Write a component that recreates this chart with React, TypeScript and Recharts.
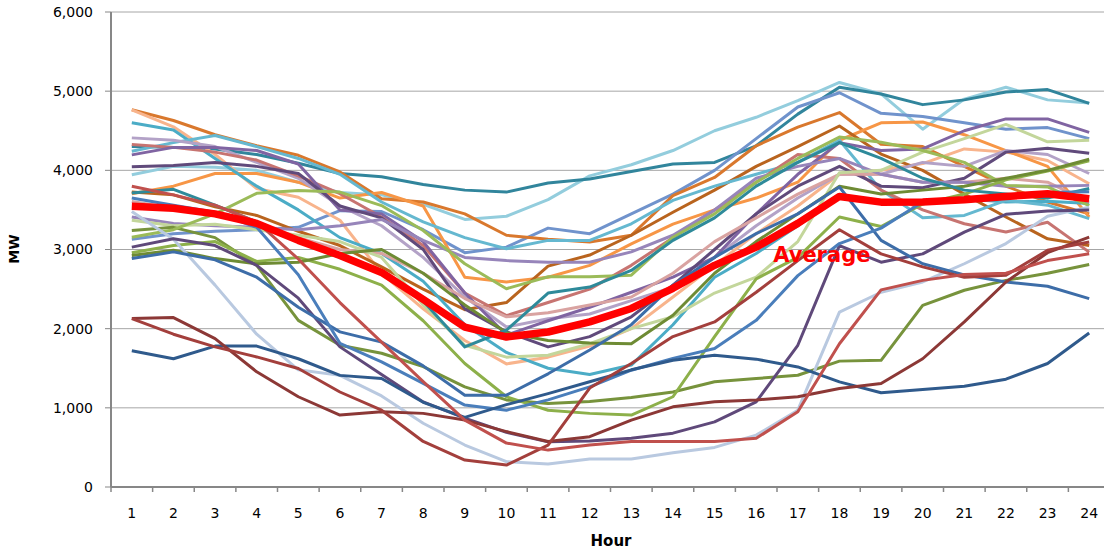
import React from 'react';
import { LineChart, Line, XAxis, YAxis, CartesianGrid } from 'recharts';

const hours = [1, 2, 3, 4, 5, 6, 7, 8, 9, 10, 11, 12, 13, 14, 15, 16, 17, 18, 19, 20, 21, 22, 23, 24];
const yTicks = [0, 1000, 2000, 3000, 4000, 5000, 6000];

const average = [3545, 3520, 3450, 3330, 3115, 2925, 2710, 2370, 2020, 1895, 1958, 2085, 2255, 2510, 2800, 3030, 3330, 3670, 3598, 3600, 3628, 3670, 3703, 3640];

const lightBlue = [3945, 4050, 4040, 4000, 3850, 3720, 3690, 3570, 3380, 3420, 3630, 3930, 4070, 4250, 4500, 4670, 4880, 5110, 4965, 4520, 4900, 5050, 4890, 4850];
const teal = [4300, 4290, 4270, 4200, 4090, 3960, 3920, 3820, 3750, 3725, 3840, 3890, 3985, 4080, 4100, 4310, 4710, 5050, 4965, 4830, 4890, 4990, 5020, 4846];
const periwinkle = [3130, 3200, 3230, 3250, 3280, 3490, 3480, 3250, 2960, 3030, 3270, 3200, 3450, 3700, 4000, 4400, 4800, 4980, 4720, 4680, 4600, 4520, 4540, 4400];
const darkOrange = [4765, 4630, 4450, 4310, 4190, 3980, 3640, 3600, 3450, 3180, 3130, 3095, 3180, 3680, 3910, 4310, 4545, 4730, 4330, 4300, 4050, 3800, 3600, 3450];
const peach = [4765, 4550, 4200, 3770, 3660, 3370, 2700, 2250, 1850, 1555, 1640, 1780, 2000, 2400, 2800, 3200, 3550, 3950, 4000, 4085, 4270, 4230, 4125, 3830];
const orange = [3705, 3800, 3960, 3960, 3850, 3650, 3720, 3550, 2650, 2590, 2650, 2800, 3070, 3320, 3500, 3650, 3850, 4380, 4600, 4610, 4450, 4250, 4050, 3410];
const brown = [3725, 3690, 3540, 3430, 3230, 3050, 2780, 2500, 2240, 2330, 2790, 2930, 3180, 3470, 3750, 4050, 4300, 4560, 4205, 4000, 3700, 3410, 3135, 3050];
const aqua = [4600, 4510, 4150, 3800, 3500, 3150, 2950, 2600, 2050, 1700, 1500, 1420, 1540, 2050, 2650, 2950, 3300, 3680, 3620, 3620, 3640, 3600, 3610, 3580];
const aqua2 = [4240, 4350, 4440, 4300, 4150, 3950, 3600, 3350, 3150, 3010, 3115, 3115, 3325, 3620, 3800, 3950, 4100, 4380, 3750, 3400, 3430, 3620, 3560, 3390];
const lightPurple = [4410, 4380, 4300, 4100, 3900, 3550, 3300, 2900, 2400, 2020, 2125, 2185, 2355, 2525, 2900, 3300, 3650, 3950, 3950, 4100, 4050, 4250, 4200, 3960];
const rose = [4325, 4290, 4230, 4130, 3930, 3705, 3410, 3050, 2450, 2165, 2330, 2500, 2800, 3150, 3500, 3850, 4200, 4150, 3750, 3500, 3325, 3220, 3345, 2967];
const purple = [4195, 4290, 4290, 4250, 4080, 3500, 3450, 3100, 2450, 1920, 2100, 2270, 2460, 2650, 2900, 3450, 3950, 4350, 4250, 4270, 4500, 4650, 4650, 4480];
const darkPurple2 = [4045, 4060, 4100, 4050, 3960, 3550, 3400, 3000, 2250, 1960, 1770, 1900, 2150, 2550, 3000, 3450, 3800, 4050, 3800, 3780, 3900, 4230, 4280, 4215];
const pink = [3605, 3520, 3450, 3300, 3150, 3000, 2950, 2700, 2380, 2150, 2200, 2300, 2400, 2700, 3100, 3400, 3700, 3950, 3950, 3850, 3850, 3900, 3850, 3600];
const mauve = [3410, 3330, 3300, 3280, 3250, 3300, 3380, 3115, 2900, 2860, 2840, 2840, 2970, 3180, 3500, 3900, 4050, 4150, 3950, 3850, 3850, 3800, 3800, 3810];
const lightGreen = [3370, 3300, 3320, 3250, 3180, 3100, 2900, 2300, 1790, 1640, 1665, 1810, 2000, 2150, 2450, 2650, 3100, 3970, 4000, 4230, 4400, 4580, 4360, 4380];
const darkGreen = [3240, 3280, 3150, 2800, 2105, 1790, 1690, 1520, 1265, 1100, 1055, 1080, 1130, 1200, 1330, 1370, 1412, 1590, 1600, 2295, 2485, 2610, 2700, 2810];
const green = [3155, 3250, 3450, 3710, 3745, 3725, 3555, 3240, 2820, 2505, 2655, 2655, 2675, 3155, 3450, 3850, 4150, 4420, 4355, 4250, 4100, 3810, 3790, 3555];
const greenDip = [2960, 3050, 3100, 2850, 2900, 2750, 2550, 2100, 1560, 1140, 970, 930, 908, 1140, 1900, 2630, 2900, 3410, 3290, 3575, 3700, 3880, 3990, 4120];
const olive = [2925, 2990, 2885, 2820, 2840, 2950, 3000, 2700, 2300, 1950, 1850, 1820, 1810, 2170, 2700, 3100, 3450, 3800, 3700, 3750, 3800, 3900, 4000, 4140];
const teal2 = [3715, 3760, 3560, 3350, 3100, 2900, 2700, 2350, 1770, 1980, 2450, 2525, 2735, 3115, 3400, 3800, 4100, 4350, 4150, 3900, 3750, 3700, 3650, 3770];
const lightGray = [3480, 3130, 2550, 1930, 1480, 1410, 1150, 805, 530, 320, 290, 355, 355, 433, 500, 655, 970, 2210, 2460, 2590, 2820, 3075, 3420, 3535];
const darkPurple = [3030, 3135, 3050, 2800, 2385, 1770, 1420, 1075, 870, 690, 570, 580, 615, 680, 823, 1075, 1790, 3050, 2840, 2945, 3220, 3445, 3485, 3500];
const blueMid = [2885, 2970, 2870, 2650, 2270, 1960, 1830, 1530, 1160, 1160, 1430, 1730, 2050, 2550, 2900, 3200, 3450, 3790, 3115, 2820, 2680, 2590, 2535, 2380];
const blue = [3650, 3560, 3470, 3280, 2680, 1815, 1580, 1310, 1035, 970, 1100, 1265, 1475, 1625, 1750, 2105, 2670, 3075, 3270, 3600, 3650, 3680, 3720, 3730];
const darkBlue = [1720, 1620, 1780, 1780, 1620, 1410, 1370, 1070, 880, 1040, 1180, 1330, 1480, 1600, 1665, 1615, 1517, 1328, 1190, 1232, 1273, 1362, 1560, 1946];
const darkRed = [2127, 2140, 1875, 1455, 1140, 908, 950, 930, 845, 700, 575, 635, 845, 1013, 1076, 1100, 1140, 1245, 1307, 1620, 2085, 2590, 2960, 3157];
const redJump = [2127, 1930, 1770, 1643, 1497, 1200, 970, 575, 340, 277, 530, 1250, 1560, 1900, 2085, 2460, 2860, 3250, 2945, 2780, 2650, 2675, 2990, 3095];
const red = [3800, 3690, 3560, 3350, 2880, 2330, 1830, 1330, 845, 555, 466, 530, 575, 575, 575, 615, 950, 1810, 2490, 2610, 2685, 2700, 2860, 2945];

const series = [
  { key: 'lightBlue', color: '#93CDDD', values: lightBlue },
  { key: 'teal', color: '#31859C', values: teal },
  { key: 'periwinkle', color: '#7093CC', values: periwinkle },
  { key: 'darkOrange', color: '#D9782D', values: darkOrange },
  { key: 'peach', color: '#F8B48C', values: peach },
  { key: 'orange', color: '#F79646', values: orange },
  { key: 'brown', color: '#B9641E', values: brown },
  { key: 'aqua', color: '#4BACC6', values: aqua },
  { key: 'aqua2', color: '#65B8D0', values: aqua2 },
  { key: 'lightPurple', color: '#B3A2C7', values: lightPurple },
  { key: 'rose', color: '#C77471', values: rose },
  { key: 'purple', color: '#8064A2', values: purple },
  { key: 'darkPurple2', color: '#604A7B', values: darkPurple2 },
  { key: 'pink', color: '#D9A3A1', values: pink },
  { key: 'mauve', color: '#9785BA', values: mauve },
  { key: 'lightGreen', color: '#C3D69B', values: lightGreen },
  { key: 'darkGreen', color: '#77933C', values: darkGreen },
  { key: 'green', color: '#9BBB59', values: green },
  { key: 'greenDip', color: '#8DB04A', values: greenDip },
  { key: 'olive', color: '#6E8B34', values: olive },
  { key: 'teal2', color: '#2E8A9A', values: teal2 },
  { key: 'lightGray', color: '#B9C9E0', values: lightGray },
  { key: 'darkPurple', color: '#5F497A', values: darkPurple },
  { key: 'blueMid', color: '#3D6DA8', values: blueMid },
  { key: 'blue', color: '#4A7EBB', values: blue },
  { key: 'darkBlue', color: '#2F5A8C', values: darkBlue },
  { key: 'darkRed', color: '#8C3836', values: darkRed },
  { key: 'redJump', color: '#A33F3C', values: redJump },
  { key: 'red', color: '#C0504D', values: red },
];

const data = hours.map((h, i) => {
  const row: Record<string, number> = { hour: h, average: average[i] };
  series.forEach((s) => {
    row[s.key] = s.values[i];
  });
  return row;
});

const FONT = "'DejaVu Sans', Verdana, sans-serif";
const PLOT_LEFT = 111;
const PLOT_RIGHT = 1110;
const AXIS_Y = 487;
const BAND = (PLOT_RIGHT - PLOT_LEFT) / 24;
const AXIS_COLOR = '#878787';

const XTick = (props: any) => {
  const { x, payload } = props;
  const isLast = payload.value === 24;
  return (
    <g>
      <line x1={x - BAND / 2} x2={x - BAND / 2} y1={AXIS_Y} y2={AXIS_Y + 5} stroke={AXIS_COLOR} strokeWidth={1.5} />
      {isLast && (
        <line x1={x + BAND / 2} x2={x + BAND / 2} y1={AXIS_Y} y2={AXIS_Y + 5} stroke={AXIS_COLOR} strokeWidth={1.5} />
      )}
      <text x={x} y={518} textAnchor="middle" fontSize={14} fontFamily={FONT} fill="#000">
        {payload.value}
      </text>
    </g>
  );
};

const fmt = (v: number) => v.toLocaleString('en-US');

const AvgDot = (props: any) => {
  const { cx, cy, index } = props;
  if (index !== 16) return <g key={`d${index}`} />;
  return (
    <text
      key={`d${index}`}
      x={cx + 24}
      y={cy + 39}
      textAnchor="middle"
      fontSize={21}
      fontWeight="bold"
      fontFamily={FONT}
      fill="#FF0000"
    >
      Average
    </text>
  );
};

export default function App() {
  return (
    <div style={{ width: 1104, height: 554, overflow: 'hidden', position: 'relative', background: '#fff' }}>
      <style>{'body{margin:0;overflow:hidden;}'}</style>
      <LineChart width={1115} height={554} data={data} margin={{ top: 12, right: 5, left: 0, bottom: 0 }}>
        <CartesianGrid vertical={false} stroke="#A6A6A6" strokeWidth={1} />
        <XAxis
          dataKey="hour"
          type="number"
          domain={[0.5, 24.5]}
          ticks={hours}
          interval={0}
          height={67}
          axisLine={{ stroke: AXIS_COLOR, strokeWidth: 2 }}
          tickLine={false}
          tick={<XTick />}
          label={() => (
            <text x={611} y={546} textAnchor="middle" fontSize={15} fontWeight="bold" fontFamily={FONT} fill="#000">
              Hour
            </text>
          )}
        />
        <YAxis
          width={111}
          domain={[0, 6000]}
          ticks={yTicks}
          interval={0}
          tickFormatter={fmt}
          axisLine={{ stroke: AXIS_COLOR, strokeWidth: 2 }}
          tickLine={{ stroke: AXIS_COLOR }}
          tickSize={6}
          tickMargin={12}
          tick={{ fontSize: 14, fontFamily: FONT, fill: '#000' }}
          label={() => (
            <text
              x={14}
              y={249}
              transform="rotate(-90 14 249)"
              textAnchor="middle"
              dominantBaseline="central"
              fontSize={14}
              fontWeight="bold"
              fontFamily={FONT}
              fill="#000"
            >
              MW
            </text>
          )}
        />
        {series.map((s) => (
          <Line
            key={s.key}
            dataKey={s.key}
            stroke={s.color}
            strokeWidth={3}
            dot={false}
            activeDot={false}
            isAnimationActive={false}
            type="linear"
            strokeLinejoin="round"
          />
        ))}
        <Line
          dataKey="average"
          stroke="#FF0000"
          strokeWidth={7.5}
          dot={<AvgDot />}
          activeDot={false}
          isAnimationActive={false}
          type="linear"
          strokeLinejoin="round"
        />
      </LineChart>
    </div>
  );
}
